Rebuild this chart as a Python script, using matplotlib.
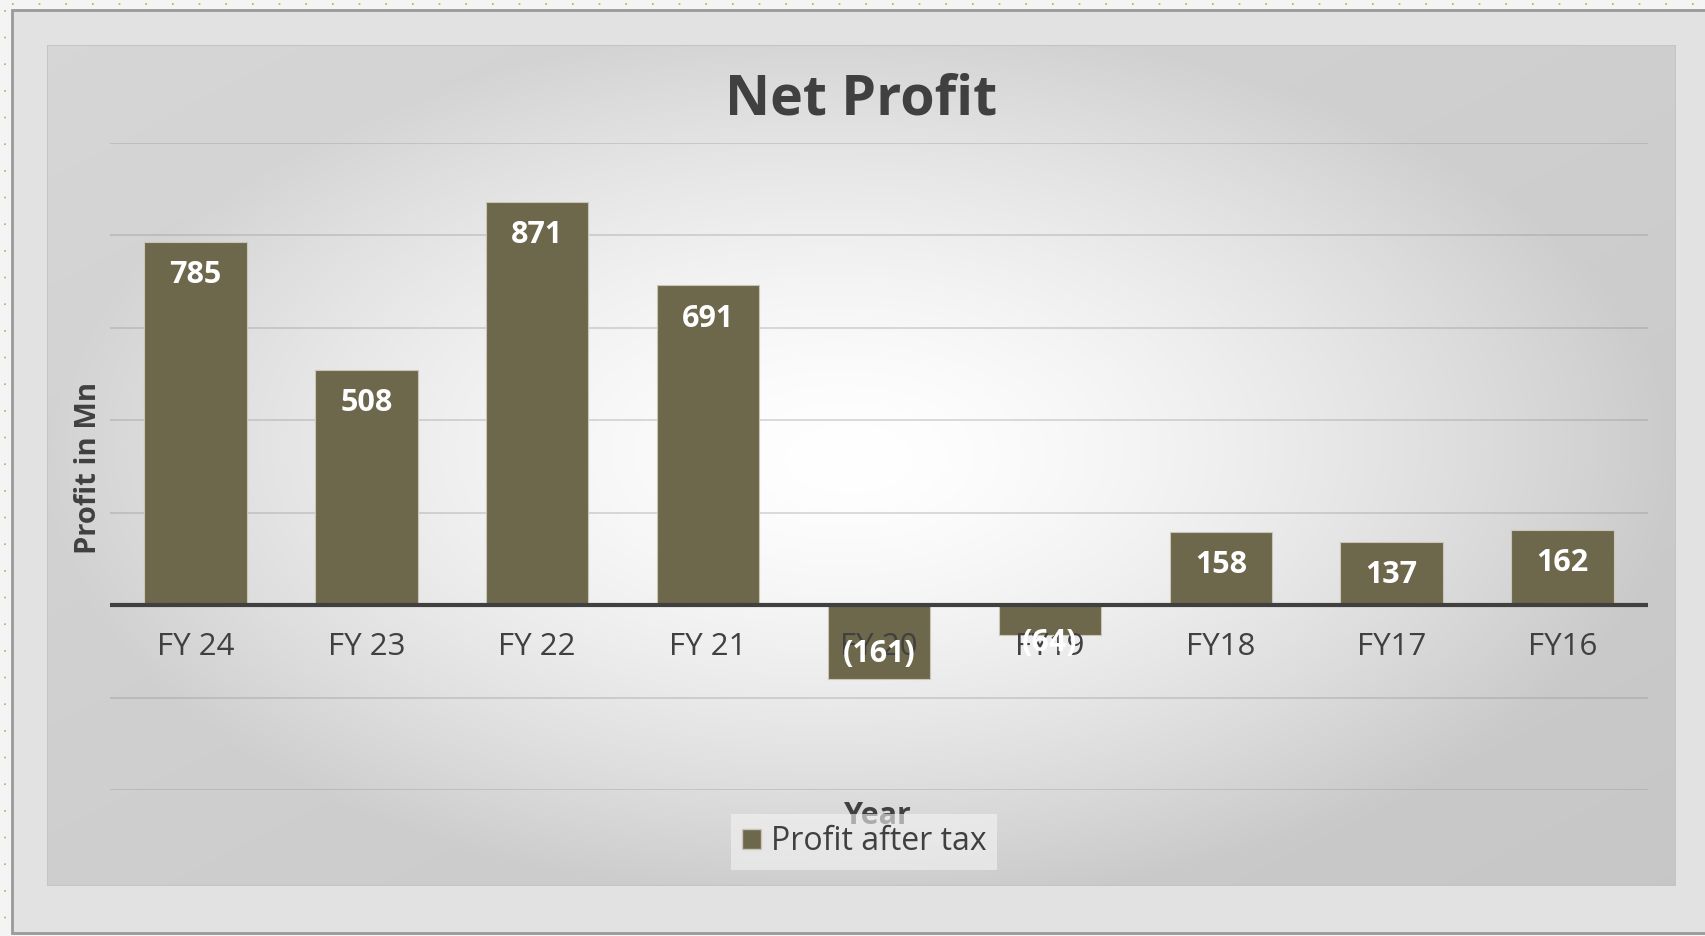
import matplotlib

matplotlib.use("Agg")
import matplotlib.pyplot as plt
import numpy as np
from matplotlib.lines import Line2D
from matplotlib.patches import Patch, Rectangle

# data
years = ["FY 24", "FY 23", "FY 22", "FY 21", "FY 20", "FY19", "FY18", "FY17", "FY16"]
profit = [785, 508, 871, 691, -161, -64, 158, 137, 162]
y_ticks = [-400, -200, 0, 200, 400, 600, 800, 1000]

W, H = 1706, 936
BAR = "#6d674c"
DARK = "#404040"

plt.rcParams["font.family"] = ["Open Sans", "DejaVu Sans"]

fig = plt.figure(figsize=(W / 100, H / 100), dpi=100)
fig.patch.set_facecolor("#f4f4f4")


def fx(px):
    return px / W


def fy(py):
    return 1 - py / H


# outer frame
fig.patches.append(Rectangle((fx(12), fy(933)), fx(1720) - fx(12), fy(10) - fy(933),
                             transform=fig.transFigure, facecolor="#e2e2e2",
                             edgecolor="#9a9a9a", lw=2.0, zorder=-10))
# selection dots along left and top edge
fig.add_artist(Line2D([fx(5), fx(5)], [fy(10), fy(936)], transform=fig.transFigure,
                      color="#8cc63f", lw=1.2, ls=(0, (1, 15)), zorder=-9))
fig.add_artist(Line2D([fx(12), 1], [fy(4), fy(4)], transform=fig.transFigure,
                      color="#8cc63f", lw=1.2, ls=(0, (1, 15)), zorder=-9))

# chart area with radial gradient
left, top, right, bottom = 47, 45, 1676, 886
bg = fig.add_axes([fx(left), fy(bottom), fx(right) - fx(left), fy(top) - fy(bottom)])
bg.set_zorder(-5)
gx, gy = np.meshgrid(np.linspace(-1, 1, 600), np.linspace(1, -1, 400))
r = np.sqrt(gx ** 2 + (gy / 1.05) ** 2)
shade = 1.0 - 0.19 * np.clip(r, 0, 1.0) ** 1.5 - 0.03 * (gx - gy) / 2
shade = np.clip(shade, 0, 1)
bg.imshow(np.dstack([shade, shade, shade]), aspect="auto", extent=(0, 1, 0, 1),
          interpolation="bilinear", vmin=0, vmax=1)
bg.set_axis_off()
bg.add_patch(Rectangle((0, 0), 1, 1, transform=bg.transAxes, fill=False,
                       edgecolor="#c4c4c4", lw=1.5))

# plot area
p_left, p_right, p_top, p_bottom = 110, 1648, 142.5, 790
ax = fig.add_axes([fx(p_left), fy(p_bottom), fx(p_right) - fx(p_left), fy(p_top) - fy(p_bottom)])
ax.set_zorder(1)
ax.set_facecolor("none")
x = np.arange(len(years))
bars = ax.bar(x, profit, width=0.6, color=BAR, edgecolor="#c9c6b8", linewidth=0.8, zorder=2)
ax.set_xlim(-0.5, len(years) - 0.5)
ax.set_ylim(y_ticks[0], y_ticks[-1])
ax.set_yticks(y_ticks)
ax.set_yticklabels([])
ax.grid(axis="y", color="#8a8a8a", alpha=0.35, lw=1.2, zorder=0)
ax.axhline(0, color=DARK, lw=3, zorder=3)
for s in ax.spines.values():
    s.set_visible(False)
ax.set_xticks(x)
ax.set_xticklabels(years, fontsize=22.5, color=DARK)
ax.tick_params(axis="x", length=0, pad=-114, direction="in")
ax.tick_params(axis="y", length=0)
ax.xaxis.set_zorder(4)

for xi, v in zip(x, profit):
    text = f"{v}" if v >= 0 else f"({-v})"
    if v >= 0:
        off = -24
    elif v < -100:
        off = 18
    else:
        off = -6
    ax.annotate(text, (xi, v), xytext=(0, off), textcoords="offset points",
                ha="center", va="center", fontsize=22, fontweight="bold",
                color="white", zorder=5)

fig.text(fx(861), fy(100), "Net Profit", ha="center", va="center",
         fontsize=40, fontweight="bold", color=DARK)
fig.text(fx(89), fy(468), "Profit in Mn", ha="center", va="center", rotation=90,
         fontsize=21, fontweight="bold", color=DARK)
fig.text(fx(878), fy(816), "Year", ha="center", va="center",
         fontsize=22, fontweight="bold", color=DARK)

leg = fig.legend(handles=[Patch(facecolor=BAR, edgecolor="#c9c6b8", label="Profit after tax")],
                 loc="center", bbox_to_anchor=(fx(864), fy(842)), frameon=True,
                 facecolor="#f4f4f4", framealpha=0.6, edgecolor="none", fancybox=False,
                 fontsize=23, handlelength=0.6, handleheight=0.6, handletextpad=0.3,
                 borderpad=0.35, borderaxespad=0, labelcolor=DARK)

fig.savefig("out.png", dpi=100)
